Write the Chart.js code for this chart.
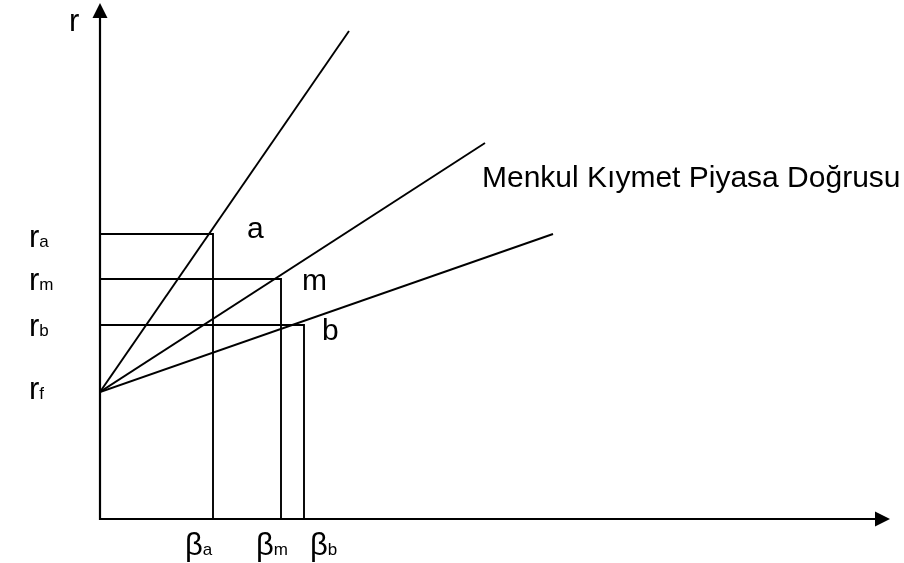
<!DOCTYPE html>
<html>
<head>
<meta charset="utf-8">
<script src="https://cdn.jsdelivr.net/npm/chart.js@4.4.0/dist/chart.umd.min.js"></script>
<style>
html, body { margin: 0; padding: 0; background: #fff; }
#wrap { width: 904px; height: 563px; }
</style>
</head>
<body>
<div id="wrap"><canvas id="myChart" width="904" height="563"></canvas></div>
<script>
// Security market line sketch (values in chart units)
var rf = 1.27;
var pointNames = ['a', 'm', 'b'];
var rValues = [2.85, 2.40, 1.94];
var betaValues = [1.13, 1.81, 2.04];
// the three lines start at (0, rf) and end here
var lineEndX = [2.49, 3.85, 4.53];
var lineEndY = [4.88, 3.76, 2.85];
var lineTitle = 'Menkul Kıymet Piyasa Doğrusu';

var FONT = '"Liberation Sans", Arial, sans-serif';

var datasets = [];
for (var i = 0; i < pointNames.length; i++) {
    // ray from rf
    datasets.push({
        label: 'line ' + pointNames[i],
        data: [{ x: 0, y: rf }, { x: lineEndX[i], y: lineEndY[i] }],
        showLine: true,
        borderColor: '#000',
        borderWidth: 1.9,
        pointRadius: 0
    });
    // guide lines r -> point -> beta
    datasets.push({
        label: 'guide ' + pointNames[i],
        data: [{ x: 0, y: rValues[i] }, { x: betaValues[i], y: rValues[i] }, { x: betaValues[i], y: 0 }],
        showLine: true,
        borderColor: '#000',
        borderWidth: 1.9,
        pointRadius: 0
    });
}

function txt(ctx, s, x, y, size) {
    ctx.font = size + 'px ' + FONT;
    ctx.fillText(s, x, y);
    return ctx.measureText(s).width;
}

var sketchPlugin = {
    id: 'sketch',
    afterDatasetsDraw: function (chart) {
        var ctx = chart.ctx;
        var xs = chart.scales.x, ys = chart.scales.y;
        var x0 = xs.getPixelForValue(0), y0 = ys.getPixelForValue(0);
        var area = chart.chartArea;
        ctx.save();
        ctx.strokeStyle = '#000';
        ctx.fillStyle = '#000';
        ctx.lineWidth = 2.2;
        // axes
        ctx.beginPath();
        ctx.moveTo(x0, area.top + 12);
        ctx.lineTo(x0, y0);
        ctx.lineTo(area.right - 12, y0);
        ctx.stroke();
        // arrow heads
        ctx.beginPath();
        ctx.moveTo(x0, area.top);
        ctx.lineTo(x0 - 7.5, area.top + 15);
        ctx.lineTo(x0 + 7.5, area.top + 15);
        ctx.closePath();
        ctx.fill();
        ctx.beginPath();
        ctx.moveTo(area.right, y0);
        ctx.lineTo(area.right - 15, y0 - 7.5);
        ctx.lineTo(area.right - 15, y0 + 7.5);
        ctx.closePath();
        ctx.fill();

        ctx.textBaseline = 'alphabetic';
        ctx.textAlign = 'left';
        // axis title
        txt(ctx, 'r', x0 - 31, 31, 31);

        // r labels on the left
        var rAll = rValues.concat([rf]);
        var rSubs = pointNames.concat(['f']);
        var rDrop = [13, 11, 11, 7];
        for (var i = 0; i < rAll.length; i++) {
            var py = ys.getPixelForValue(rAll[i]) + rDrop[i];
            var w = txt(ctx, 'r', 29, py, 31);
            txt(ctx, rSubs[i], 29 + w, py, 17);
        }

        // beta labels under the x axis
        var betaShift = [-28, -25, 6];
        for (var j = 0; j < betaValues.length; j++) {
            var px = xs.getPixelForValue(betaValues[j]) + betaShift[j];
            var wb = txt(ctx, 'β', px, y0 + 36, 31);
            txt(ctx, pointNames[j], px + wb, y0 + 36, 17);
        }

        // point names
        var nameShift = [[34, 4], [21, 11], [18, 15]];
        for (var k = 0; k < pointNames.length; k++) {
            txt(ctx, pointNames[k],
                xs.getPixelForValue(betaValues[k]) + nameShift[k][0],
                ys.getPixelForValue(rValues[k]) + nameShift[k][1], 30);
        }

        // line title
        txt(ctx, lineTitle, 482, 187, 30);
        ctx.restore();
    }
};

new Chart(document.getElementById('myChart').getContext('2d'), {
    type: 'scatter',
    data: { datasets: datasets },
    options: {
        responsive: false,
        animation: false,
        layout: { padding: { left: 100, right: 14, top: 3, bottom: 44 } },
        plugins: { legend: { display: false }, tooltip: { enabled: false } },
        scales: {
            x: { type: 'linear', display: false, min: 0, max: 7.9 },
            y: { type: 'linear', display: false, min: 0, max: 5.16 }
        }
    },
    plugins: [sketchPlugin]
});
</script>
</body>
</html>
